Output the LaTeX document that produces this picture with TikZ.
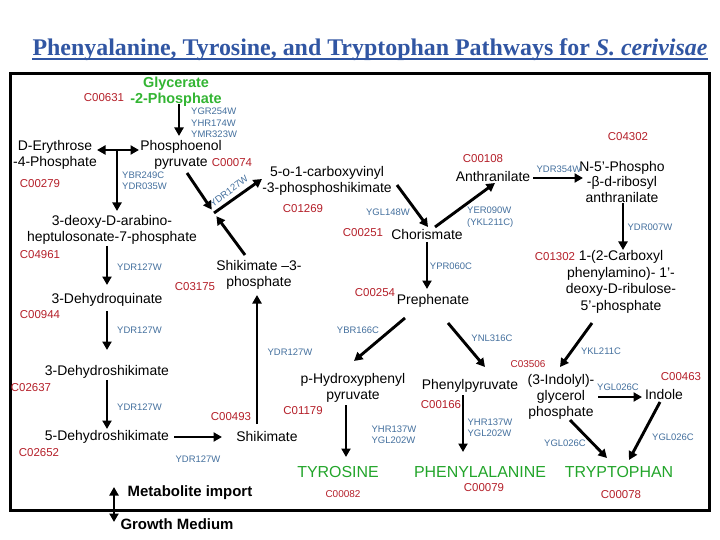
\documentclass[tikz,border=0pt]{standalone}
\usepackage{fontspec}
\setmainfont{Liberation Sans}
\newfontfamily\titlefont{Liberation Serif}
\usetikzlibrary{arrows.meta}
\definecolor{cred}{HTML}{B5202A}
\definecolor{gblue}{HTML}{44709E}
\definecolor{agreen}{HTML}{22A52A}
\definecolor{lgreen}{HTML}{33B533}
\definecolor{tblue}{HTML}{3156A3}
\begin{document}
\begin{tikzpicture}[x=1bp,y=-1bp,
  lbl/.style={font=\fontsize{14}{16}\selectfont, align=center, inner sep=0pt},
  gene/.style={font=\fontsize{9.5}{11.5}\selectfont, text=gblue, align=left, inner sep=0pt},
  cid/.style={font=\fontsize{11.5}{13}\selectfont, text=cred, inner sep=0pt},
  cids/.style={font=\fontsize{10}{12}\selectfont, text=cred, inner sep=0pt},
  amino/.style={font=\fontsize{16}{18}\selectfont, text=agreen, inner sep=0pt},
  boldlbl/.style={font=\fontsize{15}{17}\selectfont\bfseries, inner sep=0pt},
  arr/.style={line width=2.9bp, -{Triangle[length=8.5bp,width=9bp]}},
  darr/.style={line width=2.9bp, {Triangle[length=8.5bp,width=9bp]}-{Triangle[length=8.5bp,width=9bp]}}]
\fill[white] (0,0) rectangle (720,540);
\useasboundingbox (0,0) rectangle (720,540);
% title
\node[font=\titlefont\fontsize{24}{28}\selectfont\bfseries, text=tblue, anchor=base, inner sep=0pt] (title) at (370,56) {Phenyalanine, Tyrosine, and Tryptophan Pathways for \textit{S. cerivisae}};
\draw[tblue, line width=1.3bp] ([yshift=-3bp]title.base west) -- ([yshift=-3bp]title.base east);
% frame
\draw[line width=3bp] (10,74) rectangle (709,510);
% compounds
\node[font=\fontsize{14.5}{16}\selectfont\bfseries, text=lgreen, align=center, inner sep=0pt] (gly) at (176,92) {Glycerate\\-2-Phosphate};
\node[cid] (c00631) at (104,98) {C00631};
\node[gene, anchor=west] (g1) at (191,123) {YGR254W\\YHR174W\\YMR323W};
\node[lbl] (pep) at (181,155) {Phosphoenol\\pyruvate};
\node[cid] (c00074) at (232,163) {C00074};
\node[lbl] (ery) at (55,155) {D-Erythrose\\-4-Phosphate};
\node[cid] (c00279) at (40,184) {C00279};
\node[gene, anchor=west] (g2) at (122,181) {YBR249C\\YDR035W};
\node[lbl] (deoxy) at (112,230) {3-deoxy-D-arabino-\\heptulosonate-7-phosphate};
\node[cid] (c04961) at (40,255) {C04961};
\node[gene, anchor=west] (g3) at (117,267) {YDR127W};
\node[lbl] (dhq) at (107,300) {3-Dehydroquinate};
\node[cid] (c00944) at (40,315) {C00944};
\node[gene, anchor=west] (g4) at (117,330) {YDR127W};
\node[lbl] (dhs) at (107,372) {3-Dehydroshikimate};
\node[cid] (c02637) at (31,388) {C02637};
\node[gene, anchor=west] (g5) at (117,407) {YDR127W};
\node[lbl] (dhs5) at (107,437) {5-Dehydroshikimate};
\node[cid] (c02652) at (39,453) {C02652};
\node[gene] (g6) at (198,459) {YDR127W};
\node[lbl] (shik) at (267,437) {Shikimate};
\node[cid] (c00493) at (231,417) {C00493};
\node[gene] (g7) at (290,352) {YDR127W};
\node[lbl] (s3p) at (259,275) {Shikimate –3-\\phosphate};
\node[cid] (c03175) at (195,287) {C03175};
\coordinate (j2) at (214,213);
\node[gene, rotate=37] (g8) at (229,191) {YDR127W};
\node[lbl] (epsp) at (327,181) {5-o-1-carboxyvinyl\\-3-phosphoshikimate};
\node[cid] (c01269) at (303,209) {C01269};
\node[gene] (g9) at (388,212) {YGL148W};
\node[cid] (c00251) at (363,233) {C00251};
\node[lbl] (cho) at (427,235) {Chorismate};
\node[lbl] (anth) at (493,177) {Anthranilate};
\node[cid] (c00108) at (483,159) {C00108};
\node[gene, anchor=west] (g10) at (467,217) {YER090W\\(YKL211C)};
\node[font=\fontsize{14}{15.5}\selectfont, align=center, inner sep=0pt] (nphos) at (622,182) {N-5’-Phospho\\-β-d-ribosyl\\anthranilate};
\node[gene] (g11) at (559,169) {YDR354W};
\node[cid] (c04302) at (628,137) {C04302};
\node[font=\fontsize{14}{16.5}\selectfont, align=center, inner sep=0pt] (cpr) at (621,282) {1-(2-Carboxyl\\phenylamino)- 1’-\\deoxy-D-ribulose-\\5’-phosphate};
\node[gene] (g12) at (650,227) {YDR007W};
\node[cid] (c01302) at (555,257) {C01302};
\node[lbl] (preph) at (433,301) {Prephenate};
\node[gene] (g13) at (451,266) {YPR060C};
\node[cid] (c00254) at (375,293) {C00254};
\node[lbl] (php) at (353,388) {p-Hydroxyphenyl\\pyruvate};
\node[gene] (g14) at (358,330) {YBR166C};
\node[cid] (c01179) at (303,411) {C01179};
\node[gene] (g15) at (394,435) {YHR137W\\YGL202W};
\node[amino] (tyr) at (338,472) {TYROSINE};
\node[cids] (c00082) at (343,494) {C00082};
\node[lbl] (phpyr) at (470,386) {Phenylpyruvate};
\node[gene] (g16) at (492,338) {YNL316C};
\node[cid] (c00166) at (441,405) {C00166};
\node[gene] (g17) at (490,428) {YHR137W\\YGL202W};
\node[amino] (phe) at (480,472) {PHENYLALANINE};
\node[cid] (c00079) at (484,488) {C00079};
\node[gene] (g18) at (601,351) {YKL211C};
\node[cids] (c03506) at (528,364) {C03506};
\node[lbl] (igp) at (561,397) {(3-Indolyl)-\\glycerol\\phosphate};
\node[gene] (g19) at (618,387) {YGL026C};
\node[lbl] (indole) at (664,395) {Indole};
\node[cid] (c00463) at (681,377) {C00463};
\node[gene] (g20) at (565,443) {YGL026C};
\node[gene] (g21) at (673,437) {YGL026C};
\node[amino] (trp) at (619,472) {TRYPTOPHAN};
\node[cid] (c00078) at (621,495) {C00078};
\node[boldlbl] (metab) at (190,493) {Metabolite import};
\node[boldlbl] (growth) at (177,524) {Growth Medium};
\coordinate (jn) at (117,150);
% connectors
\draw[arr] ([shift={(3,12)}]gly.center) -- ([shift={(-2,-19)}]pep.center);
\draw[darr] ([shift={(42,-5)}]ery.center) -- ([shift={(-42,-5)}]pep.center);
\draw[arr] (jn) -- ([shift={(5,-19)}]deoxy.center);
\draw[arr] ([shift={(-5,16)}]deoxy.center) -- ([shift={(0,-15)}]dhq.center);
\draw[arr] ([shift={(0,11)}]dhq.center) -- ([shift={(0,-22)}]dhs.center);
\draw[arr] ([shift={(0,8)}]dhs.center) -- ([shift={(0,-8)}]dhs5.center);
\draw[arr] ([shift={(67,0)}]dhs5.center) -- ([shift={(-45,0)}]shik.center);
\draw[arr] ([shift={(-10,-13)}]shik.center) -- ([shift={(-2,20)}]s3p.center);
\draw[arr, shorten >=4bp] ([shift={(-14,-20)}]s3p.center) -- (j2);
\draw[arr, shorten >=4bp] ([shift={(6,18)}]pep.center) -- (j2);
\draw[arr] (j2) -- ([shift={(-65,-2)}]epsp.center);
\draw[arr] ([shift={(70,4)}]epsp.center) -- ([shift={(1,-8)}]cho.center);
\draw[arr] ([shift={(8,-8)}]cho.center) -- ([shift={(2,6)}]anth.center);
\draw[arr] ([shift={(40,1)}]anth.center) -- ([shift={(-39,-4)}]nphos.center);
\draw[arr] ([shift={(1,21)}]nphos.center) -- ([shift={(2,-32)}]cpr.center);
\draw[arr] ([shift={(0,7)}]cho.center) -- ([shift={(-6,-12)}]preph.center);
\draw[arr] ([shift={(-28,17)}]preph.center) -- ([shift={(1,-27)}]php.center);
\draw[arr] ([shift={(15,22)}]preph.center) -- ([shift={(15,-19)}]phpyr.center);
\draw[arr] ([shift={(-7,17)}]php.center) -- ([shift={(8,-15)}]tyr.center);
\draw[arr] ([shift={(-7,9)}]phpyr.center) -- ([shift={(-17,-20)}]phe.center);
\draw[arr] ([shift={(-29,41)}]cpr.center) -- ([shift={(-1,-30)}]igp.center);
\draw[arr] ([shift={(37,0)}]igp.center) -- ([shift={(-22,2)}]indole.center);
\draw[arr] ([shift={(9,23)}]igp.center) -- ([shift={(-12,-14)}]trp.center);
\draw[arr] ([shift={(-4,7)}]indole.center) -- ([shift={(10,-12)}]trp.center);
\draw[darr] ([shift={(-76,-6)}]metab.center) -- ([shift={(-63,-2)}]growth.center);
\end{tikzpicture}
\end{document}
